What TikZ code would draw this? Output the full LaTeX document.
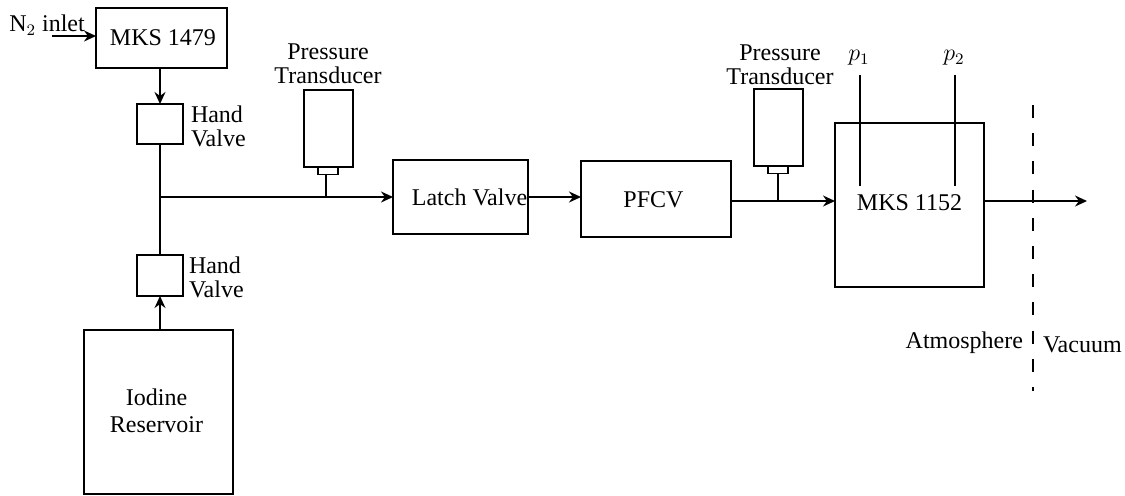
\documentclass[tikz,border=0pt]{standalone}
\usepackage{fontspec}
\setmainfont{Liberation Serif}
\usetikzlibrary{arrows.meta}
\tikzset{
    unit/.style={draw, line width=0.8pt, inner sep=0pt, outer sep=0pt},
    lbl/.style={inner sep=0pt, outer sep=0pt, font=\fontsize{12}{13}\selectfont, align=left},
    pipe/.style={line width=0.8pt},
    flow/.style={line width=0.8pt, -{Stealth[length=6pt,width=5.5pt]}},
}
\begin{document}
\begin{tikzpicture}[x=0.5pt, y=-0.5pt]
    \useasboundingbox (0,0) rectangle (1125,495);
    % boxes
    \node[unit, minimum width=65.5pt, minimum height=30pt] (mfc) at (161.5,38) {};
    \node[unit, minimum width=23pt, minimum height=20pt] (valvetop) at (160,124) {};
    \node[unit, minimum width=23pt, minimum height=20.5pt] (valvebot) at (160,275.5) {};
    \node[unit, minimum width=74.5pt, minimum height=82pt] (reservoir) at (158.5,412) {};
    \node[unit, minimum width=67.5pt, minimum height=37pt] (latch) at (460.5,197) {};
    \node[unit, minimum width=75pt, minimum height=38pt] (pfcv) at (656,199) {};
    \node[unit, minimum width=74.5pt, minimum height=82pt] (baratron) at (909.5,205) {};
    \node[unit, minimum width=24.5pt, minimum height=38.5pt] (ptone) at (328.5,128.5) {};
    \node[unit, minimum width=10pt, minimum height=3.5pt] (ptonetip) at (328,171) {};
    \node[unit, minimum width=24.5pt, minimum height=38.5pt] (pttwo) at (778.5,127.5) {};
    \node[unit, minimum width=10pt, minimum height=3.5pt] (pttwotip) at (778,170) {};
    % text
    \node[lbl] (inlettext) at (47,25) {N$_2$ inlet};
    \node[lbl] at (163,38) {MKS 1479};
    \node[lbl, anchor=west] at (191,126) {Hand\\[-1pt]Valve};
    \node[lbl, anchor=west] at (189,277) {Hand\\[-1pt]Valve};
    \node[lbl, align=center] at (156.5,411) {Iodine\\[0.5pt]Reservoir};
    \node[lbl, align=center] at (328,64) {Pressure\\[-1pt]Transducer};
    \node[lbl, align=center] at (780,65) {Pressure\\[-1pt]Transducer};
    \node[lbl] at (469.5,197) {Latch Valve};
    \node[lbl] at (653.5,200) {PFCV};
    \node[lbl] at (909.5,203) {MKS 1152};
    \node[lbl] (ponetext) at (859,58) {$p_1$};
    \node[lbl] (ptwotext) at (954,58) {$p_2$};
    \node[lbl, anchor=east] at (1023,343) {Atmosphere};
    \node[lbl, anchor=west] at (1043,345) {Vacuum};
    % free ends
    \coordinate (inletstart) at (52,36);
    \coordinate (teeone) at (160,197);
    \coordinate (teeonept) at (326,197);
    \coordinate (teetwo) at (778,201);
    \coordinate (pfcvout) at (731,201);
    \coordinate (batin) at (835,201);
    \coordinate (batout) at (984,201);
    \coordinate (exhaust) at (1087,201);
    \coordinate (ponetop) at (860,75);
    \coordinate (poneend) at (860,186);
    \coordinate (ptwotop) at (955,75);
    \coordinate (ptwoend) at (955,186);
    \coordinate (walltop) at (1033,105);
    \coordinate (wallend) at (1033,391);
    % connectors
    \draw[flow] (inletstart) -- (mfc.west |- inletstart);
    \draw[flow] (valvetop.north |- mfc.south) -- (valvetop.north);
    \draw[pipe] (valvetop.south) -- (valvebot.north);
    \draw[flow] (valvebot.south |- reservoir.north) -- (valvebot.south);
    \draw[flow] (teeone) -- (latch.west |- teeone);
    \draw[pipe] (teeonept) -- (ptonetip.south -| teeonept);
    \draw[flow] (latch.east |- teeone) -- (pfcv.west |- teeone);
    \draw[flow] (pfcvout) -- (batin);
    \draw[pipe] (teetwo) -- (pttwotip.south);
    \draw[flow] (batout) -- (exhaust);
    \draw[pipe] (ponetop) -- (poneend);
    \draw[pipe] (ptwotop) -- (ptwoend);
    \draw[line width=0.9pt, dash pattern=on 6.5pt off 7.6pt] (walltop) -- (wallend);
\end{tikzpicture}
\end{document}
